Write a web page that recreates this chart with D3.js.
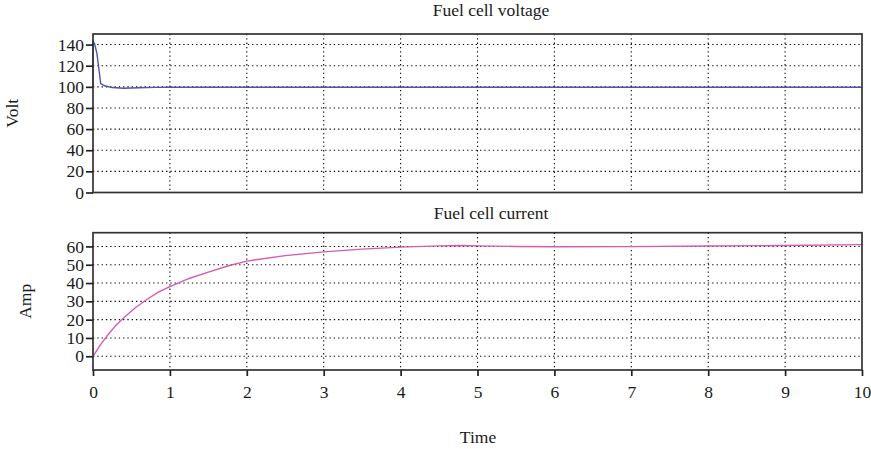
<!DOCTYPE html>
<html><head><meta charset="utf-8">
<script src="https://cdn.jsdelivr.net/npm/d3@7"></script>
<style>
body{margin:0;background:#fff;}
text{font-family:"Liberation Serif","DejaVu Serif",serif;fill:#1a1a1a;}
</style></head>
<body><svg id="c" width="871" height="449"></svg>
<script>
// Data
const voltTime = [0, 0, 0.02, 0.05, 0.08, 0.1, 0.15, 0.25, 0.4, 0.6, 0.8, 1, 2, 3, 4, 5, 6, 7, 8, 9, 10];
const voltValues = [100, 143, 141, 132, 115, 103, 101, 99.3, 98.7, 99.2, 99.5, 99.6, 99.6, 99.6, 99.6, 99.6, 99.6, 99.6, 99.6, 99.6, 99.6];
const currTime = [0, 0.1, 0.2, 0.3, 0.4, 0.55, 0.7, 0.85, 1, 1.25, 1.5, 1.75, 2, 2.5, 3, 3.5, 4, 4.5, 4.8, 5, 5.5, 6, 7, 8, 9, 10];
const currValues = [0, 6.5, 12, 17, 21, 26.5, 31, 35, 38, 42.5, 46, 49.3, 52, 55, 57, 58.5, 59.6, 60.3, 60.5, 60.3, 60, 59.8, 59.9, 60.2, 60.5, 61];
const xTicks = [0,1,2,3,4,5,6,7,8,9,10];
const voltTicks = [0,20,40,60,80,100,120,140];
const currTicks = [0,10,20,30,40,50,60];

const svg = d3.select("#c");
const L = 93, R = 862;
const FS = "17.5px";
const x = d3.scaleLinear().domain([0,10]).range([L,R]);

function panel(top, bottom, domain, ticks, tv, vv, color, title, ylab, ylabX, titleY, showX){
  const y = d3.scaleLinear().domain(domain).range([bottom, top]);
  const g = svg.append("g");
  g.selectAll(".hg").data(ticks).enter().append("line")
    .attr("x1", L).attr("x2", R).attr("y1", d=>y(d)).attr("y2", d=>y(d))
    .attr("stroke","#000").attr("stroke-width",1.1).attr("stroke-dasharray","1.3,3");
  g.selectAll(".vg").data(xTicks.slice(1,-1)).enter().append("line")
    .attr("x1", d=>x(d)).attr("x2", d=>x(d)).attr("y1", top).attr("y2", bottom)
    .attr("stroke","#000").attr("stroke-width",1.1).attr("stroke-dasharray","1.3,3");
  const line = d3.line().x((d,i)=>x(tv[i])).y(d=>y(d)).curve(d3.curveMonotoneX);
  g.append("path").datum(vv).attr("d", d3.line().x((d,i)=>x(tv[i])).y(d=>y(d))).attr("fill","none")
    .attr("stroke", color).attr("stroke-width", 1.4);
  g.append("rect").attr("x",L).attr("y",top).attr("width",R-L).attr("height",bottom-top)
    .attr("fill","none").attr("stroke","#333").attr("stroke-width",1.7);
  const ya = d3.axisLeft(y).tickValues(ticks).tickSize(7).tickPadding(2);
  const ga = g.append("g").attr("transform",`translate(${L},0)`).call(ya);
  ga.select(".domain").remove();
  ga.selectAll(".tick line").attr("stroke","#222").attr("stroke-width",1.7);
  ga.selectAll("text").style("font-size",FS).attr("fill","#1a1a1a");
  if(showX){
    const xa = d3.axisBottom(x).tickValues(xTicks).tickSize(6).tickPadding(10);
    const gx = g.append("g").attr("transform",`translate(0,${bottom})`).call(xa);
    gx.select(".domain").remove();
    gx.selectAll(".tick line").attr("stroke","#222").attr("stroke-width",1.7);
    gx.selectAll("text").style("font-size",FS).attr("fill","#1a1a1a");
  }
  svg.append("text").attr("x",491).attr("y",titleY).attr("text-anchor","middle")
    .style("font-size",FS).text(title);
  svg.append("text").attr("transform",`translate(${ylabX},${(top+bottom)/2}) rotate(-90)`)
    .attr("text-anchor","middle").attr("dy","0.35em").style("font-size",FS).text(ylab);
}
panel(34, 192.5, [0,150], voltTicks, voltTime, voltValues, "#4a55b0", "Fuel cell voltage", "Volt", 12, 16, false);
panel(232.7, 370, [-7.5,67.5], currTicks, currTime, currValues, "#d85aaf", "Fuel cell current", "Amp", 25, 219, true);
svg.append("text").attr("x",478).attr("y",443).attr("text-anchor","middle").style("font-size",FS).text("Time");
</script></body></html>
